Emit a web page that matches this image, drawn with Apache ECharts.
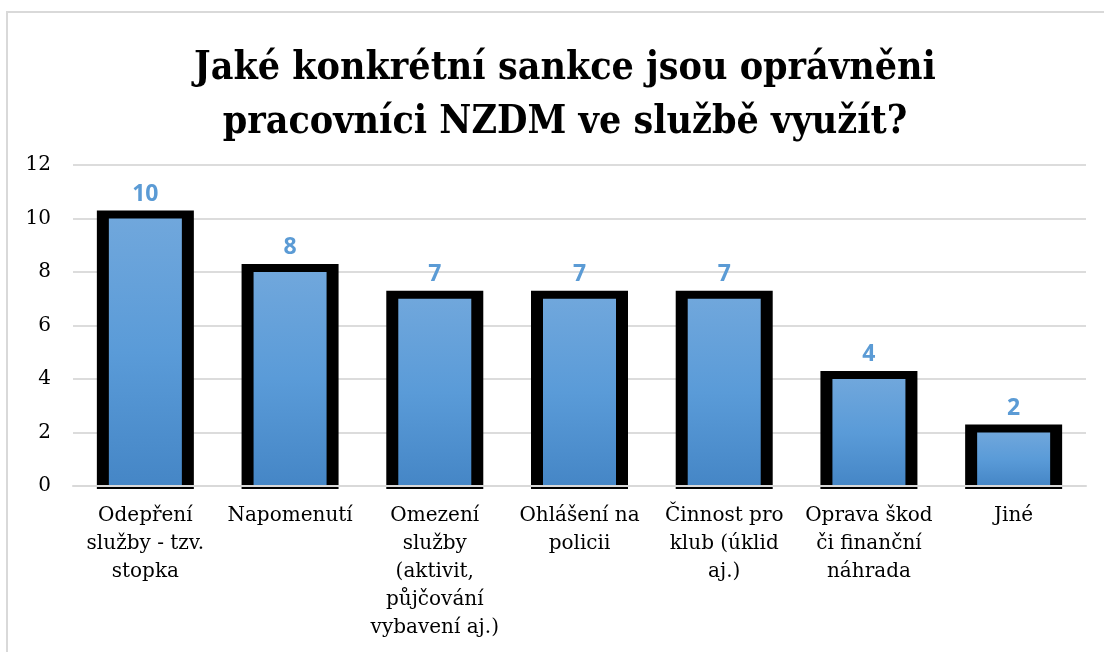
<!DOCTYPE html>
<html>
<head>
<meta charset="utf-8">
<script src="https://cdn.jsdelivr.net/npm/echarts@6/dist/echarts.min.js"></script>
<style>
  html, body { margin: 0; padding: 0; background: #fff; }
  #chart { width: 1104px; height: 652px; }
</style>
</head>
<body>
<div id="chart"></div>
<script>
  // data
  var categories = [
    'Odepření\nslužby - tzv.\nstopka',
    'Napomenutí',
    'Omezení\nslužby\n(aktivit,\npůjčování\nvybavení aj.)',
    'Ohlášení na\npolicii',
    'Činnost pro\nklub (úklid\naj.)',
    'Oprava škod\nči finanční\nnáhrada',
    'Jiné'
  ]
  var counts = [10, 8, 7, 7, 7, 4, 2]
  var yTicks = [0, 2, 4, 6, 8, 10, 12]

  var BAR_W = 73   // blue fill width
  var FRAME = 12   // black frame around the fill (sides)
  var FRAME_TOP = 8

  var chart = echarts.init(document.getElementById('chart'))
  chart.setOption({
    backgroundColor: '#fff',
    animation: false,
    title: {
      text: 'Jaké konkrétní sankce jsou oprávněni\npracovníci NZDM ve službě využít?',
      left: 560,
      textAlign: 'center',
      top: 37,
      textStyle: {
        fontFamily: "'DejaVu Serif Condensed', 'DejaVu Serif'",
        fontWeight: 'bold',
        fontSize: 39,
        lineHeight: 54,
        color: '#000'
      }
    },
    graphic: [{
      type: 'rect',
      shape: { x: 7, y: 12, width: 1300, height: 800 },
      style: { fill: 'none', stroke: '#d9d9d9', lineWidth: 2 },
      silent: true
    }],
    grid: { left: 73, right: 18, top: 165, bottom: 166 },
    xAxis: {
      type: 'category',
      data: categories,
      z: 5,
      axisTick: { show: false },
      axisLine: { lineStyle: { color: '#d9d9d9', width: 2 } },
      axisLabel: {
        interval: 0,
        margin: 16,
        fontFamily: 'DejaVu Serif',
        fontSize: 20,
        lineHeight: 28,
        color: '#000'
      }
    },
    yAxis: {
      type: 'value',
      min: yTicks[0],
      max: yTicks[yTicks.length - 1],
      interval: 2,
      axisLine: { show: false },
      axisTick: { show: false },
      splitLine: { lineStyle: { color: '#dcdcdc', width: 2 } },
      axisLabel: {
        margin: 22,
        fontFamily: 'DejaVu Serif',
        fontSize: 20,
        color: '#000'
      }
    },
    series: [
      {
        // black frame behind each bar
        type: 'custom',
        data: counts.map(function (v, i) { return [i, v] }),
        silent: true,
        z: 2,
        renderItem: function (params, api) {
          var top = api.coord([api.value(0), api.value(1)])
          var base = api.coord([api.value(0), 0])
          return {
            type: 'rect',
            shape: {
              x: top[0] - BAR_W / 2 - FRAME,
              y: top[1] - FRAME_TOP,
              width: BAR_W + FRAME * 2,
              height: base[1] - top[1] + FRAME_TOP + 3
            },
            style: { fill: '#000' }
          }
        }
      },
      {
        type: 'bar',
        data: counts,
        barWidth: BAR_W,
        z: 3,
        itemStyle: {
          color: new echarts.graphic.LinearGradient(0, 0, 0, 1, [
            { offset: 0, color: '#70a7dc' },
            { offset: 0.5, color: '#5a9bd8' },
            { offset: 1, color: '#4586c6' }
          ])
        },
        label: {
          show: true,
          position: 'top',
          distance: 13,
          fontFamily: 'Open Sans',
          fontWeight: 'bold',
          fontSize: 23,
          color: '#5b9bd5'
        }
      }
    ]
  })
</script>
</body>
</html>
